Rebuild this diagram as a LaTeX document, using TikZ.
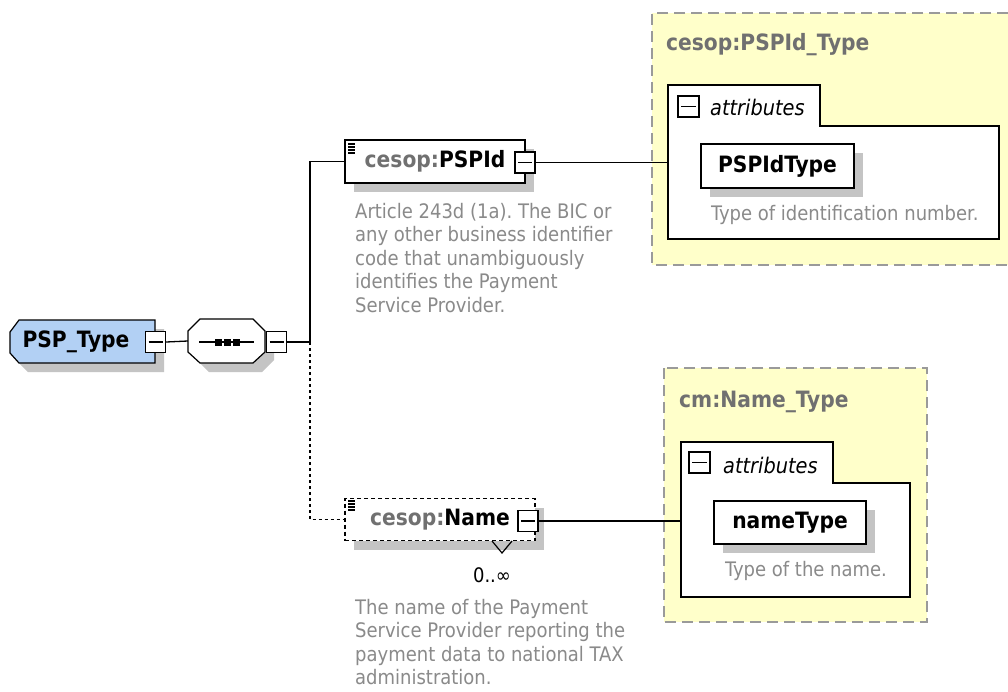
\documentclass[tikz,border=0pt]{standalone}
\usepackage{fontspec}
\setmainfont{DejaVu Sans Condensed}
\usetikzlibrary{shadows}
\definecolor{docgray}{HTML}{8A8A8A}
\definecolor{titlegray}{HTML}{707070}
\definecolor{shadowgray}{HTML}{C4C4C4}
\definecolor{bluefill}{HTML}{B2D0F4}
\definecolor{yellowbg}{HTML}{FFFFCA}
\definecolor{dashgray}{HTML}{9A9A9A}
\frenchspacing
\tikzset{
  mbox/.style={draw, fill=white, line width=1.2pt, minimum width=20pt, minimum height=21pt, inner sep=0pt,
    path picture={\draw[line width=1.2pt] ([xshift=3pt]path picture bounding box.west) -- ([xshift=-3pt]path picture bounding box.east);}},
  ibox/.style={draw, fill=white, line width=1.2pt, minimum width=21pt, minimum height=21pt, inner sep=0pt,
    path picture={\draw[line width=1.2pt] ([xshift=3pt]path picture bounding box.west) -- ([xshift=-3pt]path picture bounding box.east);}},
  shad/.style={drop shadow={shadow xshift=9pt, shadow yshift=-9pt, fill=shadowgray, opacity=1}},
  elembox/.style={draw, fill=white, line width=1.2pt, inner sep=0pt, shad, font=\fontsize{22.5}{25}\selectfont\bfseries},
  attrbox/.style={draw, fill=white, line width=1.3pt, inner sep=0pt, shad, font=\fontsize{22.5}{25}\selectfont\bfseries},
  doctext/.style={anchor=north west, align=left, inner sep=0pt, text=docgray, font=\fontsize{20}{23.5}\selectfont},
  desctext/.style={anchor=west, inner sep=0pt, text=docgray, font=\fontsize{20}{23}\selectfont},
  typetitle/.style={anchor=west, inner sep=0pt, text=titlegray, font=\fontsize{22.5}{25}\selectfont\bfseries},
  attrlabel/.style={anchor=west, inner sep=0pt, font=\fontsize{21.5}{24}\selectfont\itshape},
  yellowframe/.style={draw=dashgray, line width=1.5pt, dash pattern=on 11pt off 6pt},
  conn/.style={line width=1.3pt},
  optconn/.style={line width=1.3pt, dash pattern=on 3pt off 3pt},
  docicon/.style={line width=1.1pt},
}
\begin{document}
\begin{tikzpicture}[x=1pt,y=-1pt]
\useasboundingbox (0,0) rectangle (1008,691);
\fill[white] (0,0) rectangle (1008,691);

% ---------- yellow type boxes ----------
\fill[yellowbg] (652,13) rectangle (1008,265);
\draw[yellowframe] (1008,13) -- (652,13) -- (652,265) -- (1008,265);
\node[typetitle] (t1) at (666,45) {cesop:PSPId\_Type};
\draw[fill=white, line width=1.3pt] (668,239) -- (668,85) -- (820,85) -- (820,126) -- (999,126) -- (999,239) -- cycle;
\node[ibox] (i1) at (688.5,106.5) {};
\node[attrlabel] (al1) at (710,107) {attributes};
\node[attrbox, minimum width=153pt, minimum height=44pt] (pspidtype) at (777.5,166) {PSPIdType};
\node[desctext] (d3) at (711,215) {Type of identification number.};
\coordinate (a1) at (668,162.5);

\fill[yellowbg] (664,368) rectangle (927,622);
\draw[yellowframe] (664,368) rectangle (927,622);
\node[typetitle] (t2) at (679,402) {cm:Name\_Type};
\draw[fill=white, line width=1.3pt] (681,597) -- (681,442) -- (833,442) -- (833,483) -- (910,483) -- (910,597) -- cycle;
\node[ibox] (i2) at (699.5,462.5) {};
\node[attrlabel] (al2) at (723,465) {attributes};
\node[attrbox, minimum width=152pt, minimum height=43pt] (nametype) at (790,522.5) {nameType};
\node[desctext] (d4) at (725,571) {Type of the name.};
\coordinate (a2) at (681,521);

% ---------- PSP_Type ----------
\fill[shadowgray] (19,329) -- (164,329) -- (164,372) -- (28,372) -- (19,363) -- cycle;
\draw[fill=bluefill, line width=1.2pt] (10,332) -- (19,320) -- (155,320) -- (155,363) -- (19,363) -- (10,353) -- cycle;
\node[inner sep=0pt, font=\fontsize{22.5}{25}\selectfont\bfseries] (psp) at (76,342) {PSP\_Type};
\node[mbox] (m1) at (155.5,342) {};

% ---------- sequence compositor ----------
\fill[shadowgray] (209,328) -- (262,328) -- (274,340) -- (274,360) -- (262,372) -- (209,372) -- (197,360) -- (197,340) -- cycle;
\draw[fill=white, line width=1.2pt] (200,319) -- (253,319) -- (265,331) -- (265,352) -- (253,363) -- (200,363) -- (188,352) -- (188,331) -- cycle;
\node[minimum width=77pt, minimum height=44pt, inner sep=0pt] (seq) at (226.5,341) {};
\draw[line width=1.4pt] (199,342) -- (254,342);
\foreach \cx in {218,227,236} \fill (\cx-3.5,338.5) rectangle (\cx+3.5,345.5);
\node[mbox] (m2) at (276.5,342) {};

% ---------- element PSPId ----------
\node[elembox, minimum width=180pt, minimum height=43pt] (pspid) at (435,161.5) {\textcolor{titlegray}{cesop:}PSPId\hspace{8pt}};
\foreach \ly in {144,147,150,153} \draw[docicon] (348,\ly) -- (355,\ly);
\node[mbox] (m3) at (525,162.5) {};
\node[doctext] (d1) at (355,203) {Article 243d (1a). The BIC or\\any other business identifier\\code that unambiguously\\identifies the Payment\\Service Provider.};

% ---------- element Name ----------
\node[elembox, draw=black, dash pattern=on 4pt off 3pt, minimum width=190pt, minimum height=42pt] (name) at (440,519.5) {\textcolor{titlegray}{cesop:}Name\hspace{19pt}};
\foreach \ly in {501,504,507,510} \draw[docicon] (348,\ly) -- (355,\ly);
\node[mbox] (m4) at (528,521) {};
\draw[line width=1.2pt] (492,541) -- (502,553) -- (512,541);
\node[inner sep=0pt, font=\fontsize{20}{22}\selectfont] (mult) at (492,575) {0..∞};
\node[doctext] (d2) at (355,599) {The name of the Payment\\Service Provider reporting the\\payment data to national TAX\\administration.};

% ---------- connectors ----------
\coordinate (bus) at (310,342);
\draw[conn] (m1.east) -- (seq.west);
\draw[conn] (m2.east) -- (bus);
\draw[conn] (bus) |- (pspid.west);
\draw[optconn] (bus) |- (name.west);
\draw[conn] (m3.east) -- (a1);
\draw[conn] (m4.east) -- (a2);
\end{tikzpicture}
\end{document}
